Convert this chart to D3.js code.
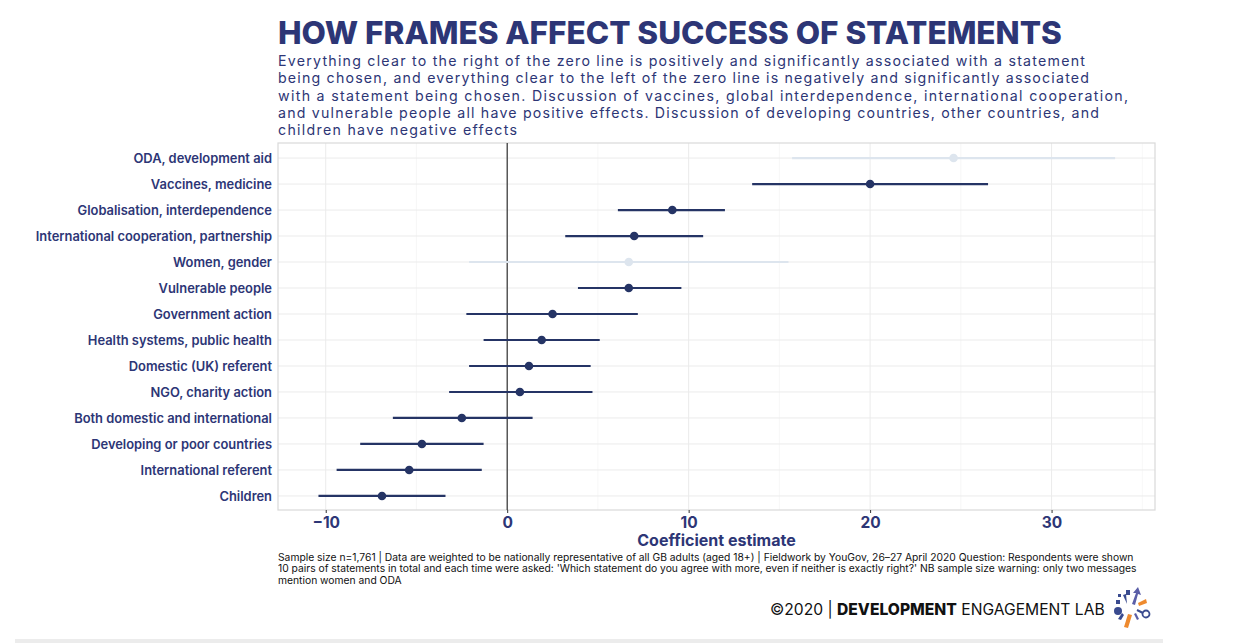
<!DOCTYPE html>
<html><head><meta charset="utf-8">
<script src="https://cdn.jsdelivr.net/npm/d3@7"></script>
<style>
html,body{margin:0;padding:0;background:#fff;}
svg{display:block;font-family:Inter,"Noto Sans",sans-serif;}
</style></head>
<body><svg id="c" width="1249" height="643"></svg>
<script>
const categories = ["ODA, development aid","Vaccines, medicine","Globalisation, interdependence","International cooperation, partnership","Women, gender","Vulnerable people","Government action","Health systems, public health","Domestic (UK) referent","NGO, charity action","Both domestic and international","Developing or poor countries","International referent","Children"];
const estimates = [24.6, 20.0, 9.1, 7.0, 6.7, 6.7, 2.5, 1.9, 1.2, 0.7, -2.5, -4.7, -5.4, -6.9];
const lower = [15.7, 13.5, 6.1, 3.2, -2.1, 3.9, -2.25, -1.3, -2.1, -3.2, -6.3, -8.1, -9.4, -10.4];
const upper = [33.5, 26.5, 12.0, 10.8, 15.5, 9.6, 7.2, 5.1, 4.6, 4.7, 1.4, -1.3, -1.4, -3.4];
const lowSample = [true, false, false, false, true, false, false, false, false, false, false, false, false, false];
const xTicks = [-10, 0, 10, 20, 30];
const xMinor = [-5, 5, 15, 25, 35];

const title = "HOW FRAMES AFFECT SUCCESS OF STATEMENTS";
const subtitleLines = ["Everything clear to the right of the zero line is positively and significantly associated with a statement",
"being chosen, and everything clear to the left of the zero line is negatively and significantly associated",
"with a statement being chosen. Discussion of vaccines, global interdependence, international cooperation,",
"and vulnerable people all have positive effects. Discussion of developing countries, other countries, and",
"children have negative effects"];
const subtitleWidths = [807, 811, 850, 821, 239];
const captionLines = ["Sample size n=1,761 | Data are weighted to be nationally representative of all GB adults (aged 18+) | Fieldwork by YouGov, 26–27 April 2020 Question: Respondents were shown",
"10 pairs of statements in total and each time were asked: 'Which statement do you agree with more, even if neither is exactly right?' NB sample size warning: only two messages",
"mention women and ODA"];

const navy = "#2d3676", dark = "#253465", light = "#dde5ee";
const svg = d3.select("#c");
const P = {l:278, r:1155, t:143, b:510};

const x = d3.scaleLinear().domain([-12.63, 35.7]).range([P.l, P.r]);
const y = d3.scalePoint().domain(categories).range([P.t+0.5, P.b+0.5]).padding(0.56);

function fitText(sel, w){
  const n = sel.node(); const L = n.getComputedTextLength();
  if (L>0) { const fs = parseFloat(sel.attr("font-size")); sel.attr("font-size", fs*w/L); }
}

// title
const t = svg.append("text").attr("x",278).attr("y",44).attr("font-size",31).attr("font-weight",800)
  .attr("fill",navy).text(title);
fitText(t, 784);
// subtitle
subtitleLines.forEach((s,i)=>{
  svg.append("text").attr("x",278).attr("y",66+i*17.3).attr("font-size",14.2).attr("fill",navy)
    .attr("textLength",subtitleWidths[i]).attr("lengthAdjust","spacing").text(s);
});

// panel
const g = svg.append("g");
g.selectAll(".minor").data(xMinor).join("line").attr("x1",d=>x(d)).attr("x2",d=>x(d))
  .attr("y1",P.t).attr("y2",P.b).attr("stroke","#f2f2f2").attr("stroke-width",0.6);
g.selectAll(".major").data(xTicks).join("line").attr("x1",d=>x(d)).attr("x2",d=>x(d))
  .attr("y1",P.t).attr("y2",P.b).attr("stroke","#ebebeb").attr("stroke-width",1);
g.selectAll(".hg").data(categories).join("line").attr("x1",P.l).attr("x2",P.r)
  .attr("y1",d=>y(d)).attr("y2",d=>y(d)).attr("stroke","#ebebeb").attr("stroke-width",1);
g.append("rect").attr("x",P.l).attr("y",P.t).attr("width",P.r-P.l).attr("height",P.b-P.t)
  .attr("fill","none").attr("stroke","#d9d9d9").attr("stroke-width",1.2);
g.append("line").attr("x1",x(0)).attr("x2",x(0)).attr("y1",P.t).attr("y2",P.b)
  .attr("stroke","#222").attr("stroke-width",1.1);

// intervals
categories.forEach((c,i)=>{
  const col = lowSample[i] ? light : dark;
  g.append("line").attr("x1",x(lower[i])).attr("x2",x(upper[i])).attr("y1",y(c)).attr("y2",y(c))
    .attr("stroke",col).attr("stroke-width",2.2);
  g.append("circle").attr("cx",x(estimates[i])).attr("cy",y(c)).attr("r",4.3).attr("fill",col);
});

// y axis labels
const yAxis = d3.axisLeft(y).tickSize(0).tickPadding(6);
const ya = svg.append("g").attr("transform",`translate(${P.l},0)`).call(yAxis);
ya.select(".domain").remove();
ya.selectAll("text").attr("font-size",12.9).attr("font-weight",600).attr("fill",navy)
  .attr("font-family","Inter,'Noto Sans',sans-serif");

// x axis
const xAxis = d3.axisBottom(x).tickValues(xTicks).tickSize(3).tickPadding(4).tickFormat(d=>d<0?"\u2212"+Math.abs(d):d);
const xa = svg.append("g").attr("transform",`translate(0,${P.b})`).call(xAxis);
xa.select(".domain").remove();
xa.selectAll(".tick line").attr("stroke","#333").attr("stroke-width",1);
xa.selectAll("text").attr("font-size",15.5).attr("font-weight",700).attr("fill",navy)
  .attr("font-family","Inter,'Noto Sans',sans-serif");

svg.append("text").attr("x",(P.l+P.r)/2).attr("y",546).attr("text-anchor","middle")
  .attr("font-size",16).attr("font-weight",700).attr("fill",navy).text("Coefficient estimate");

// caption
captionLines.forEach((s,i)=>{
  svg.append("text").attr("x",278).attr("y",561+i*11.4).attr("font-size",10.3).attr("fill","#111").text(s);
});

// footer
const ft = svg.append("text").attr("x",770).attr("y",615).attr("font-size",16).attr("fill","#111");
ft.append("tspan").text("©2020 | ");
ft.append("tspan").attr("font-weight",800).text("DEVELOPMENT");
ft.append("tspan").text(" ENGAGEMENT LAB");
fitText(ft, 335);

// logo
const lg = svg.append("g").attr("transform","translate(1130,609)");
const blue = "#3a4b8f", orange = "#ee8a2f", purple="#5b5fa8";
lg.append("rect").attr("x",-4).attr("y",-19).attr("width",4).attr("height",5).attr("fill",blue);
lg.append("path").attr("d","M2,-5 L6,-16 L3,-16 L8,-22 L11,-14 L8,-15 L5,-4 Z").attr("fill",purple);
lg.append("path").attr("d","M-3,-5 L-7,-14 L-4,-15 Z").attr("fill",blue);
lg.append("rect").attr("x",-14).attr("y",-9).attr("width",4).attr("height",4).attr("fill",blue);
lg.append("rect").attr("x",-12).attr("y",-15).attr("width",3).attr("height",3).attr("fill",blue);
lg.append("circle").attr("cx",-12).attr("cy",2).attr("r",4).attr("fill",blue);
lg.append("path").attr("d","M8,-6 L16,-10 L17,-6 L9,-3 Z").attr("fill",orange);
lg.append("path").attr("d","M-2,5 L-6,18 L-2,19 L2,6 Z").attr("fill",orange);
lg.append("path").attr("d","M-8,4 L-12,10 L-9,11 L-6,6 Z").attr("fill",blue);
lg.append("path").attr("d","M6,4 L9,10 L7,11 L4,5 Z").attr("fill",purple);
lg.append("line").attr("x1",7).attr("y1",1).attr("x2",13).attr("y2",4).attr("stroke",blue).attr("stroke-width",2);
lg.append("circle").attr("cx",16).attr("cy",5).attr("r",3.5).attr("fill","none").attr("stroke",blue).attr("stroke-width",1.8);

// bottom bar
svg.append("rect").attr("x",15).attr("y",639).attr("width",1148).attr("height",4).attr("fill","#ececec");
</script>
</body></html>
